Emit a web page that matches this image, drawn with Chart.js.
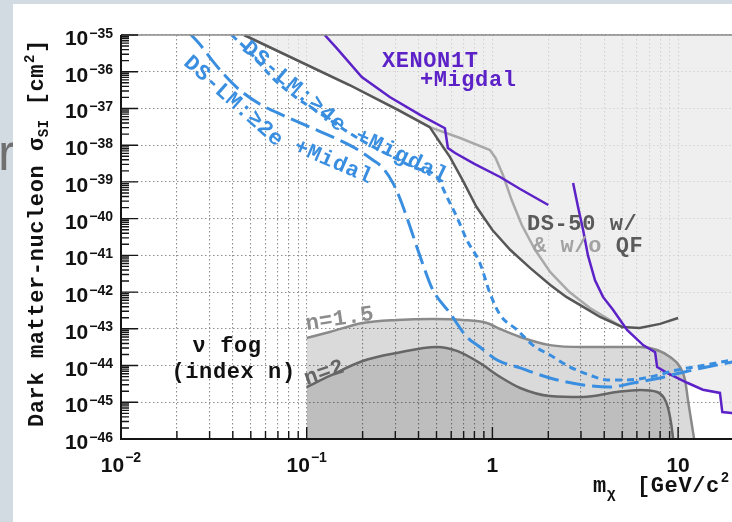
<!DOCTYPE html>
<html>
<head>
<meta charset="utf-8">
<script src="https://cdn.jsdelivr.net/npm/chart.js@4.4.1/dist/chart.umd.min.js"></script>
<style>
  html, body { margin: 0; padding: 0; width: 732px; height: 522px; overflow: hidden; background: #d3dbe2; }
  #detras { position: absolute; left: -2px; top: 126px; font: 52px/52px "Liberation Sans", Arial, sans-serif; color: #707070; }
  #hoja { position: absolute; left: 13px; top: 4px; right: 0; bottom: 0; background: #fff; }
  canvas { position: absolute; left: 0; top: 0; }
</style>
</head>
<body>
<div id="detras">r</div>
<div id="hoja"></div>
<canvas id="g_limites" width="740" height="522"></canvas>
<script>
// masses in GeV/c^2, cross sections in cm^2
const ds50Mass  = [0.046, 0.17, 0.31, 0.46, 0.52, 0.59, 0.69, 0.82, 1.0, 1.25, 1.6, 2.05, 2.5, 3.1, 3.8, 5.0, 6.2, 8.0, 10];
const ds50Sigma = [1e-35, 4.35e-37, 9.1e-38, 3.1e-38, 1.22e-38, 4.8e-39, 1.13e-39, 2.1e-40, 4.9e-41, 1.4e-41, 4.5e-42, 1.56e-42, 7.4e-43, 3.9e-43, 2.1e-43, 1.12e-43, 1.05e-43, 1.36e-43, 1.97e-43];

const ds50NoQfMass  = [0.046, 0.17, 0.31, 0.46, 0.67, 0.97, 1.04, 1.14, 1.27, 1.44, 1.7, 2.05, 2.6, 3.35, 4.3, 5.0];
const ds50NoQfSigma = [1e-35, 4.35e-37, 9.1e-38, 3.1e-38, 1.57e-38, 7.4e-39, 4.5e-39, 1.54e-39, 3.2e-40, 6.7e-41, 1.4e-41, 3.5e-42, 1.0e-42, 3.7e-43, 1.74e-43, 1.12e-43];

const xenonMigdalMass  = [0.125, 0.145, 0.198, 0.28, 0.41, 0.555, 0.576, 0.63, 0.80, 1.10, 1.41, 2.0];
const xenonMigdalSigma = [1e-35, 4.4e-36, 7.2e-37, 2.05e-37, 6.6e-38, 2.9e-38, 8.4e-39, 6.1e-39, 3.1e-39, 1.36e-39, 6.4e-40, 2.35e-40];

const xenonMass  = [2.72, 2.89, 3.08, 3.27, 3.57, 3.94, 4.46, 5.31, 6.48, 7.52, 7.71, 8.72, 11.2, 13.6, 16.8, 17.3, 21.6];
const xenonSigma = [9.4e-40, 2.1e-40, 4.9e-41, 1.0e-41, 2.1e-42, 7.4e-43, 3.3e-43, 9.3e-44, 3.6e-44, 2.3e-44, 9.1e-45, 6.3e-45, 3.4e-45, 2.2e-45, 1.8e-45, 5.4e-46, 4.8e-46];

const ds2eMass  = [0.0234, 0.0265, 0.0308, 0.0361, 0.0435, 0.0558, 0.0761, 0.104, 0.142, 0.182, 0.227, 0.257, 0.291, 0.317, 0.350, 0.397, 0.433, 0.478, 0.590, 0.729, 0.856, 1.06, 1.41, 2.04, 3.08, 4.30, 5.72, 8.0, 10.25, 14.3, 19.6];
const ds2eSigma = [1.12e-35, 5.7e-36, 2.1e-36, 8.15e-37, 3.2e-37, 1.32e-37, 6.2e-38, 3.1e-38, 1.57e-38, 8.4e-39, 3.95e-39, 2.4e-39, 9.4e-40, 3.65e-40, 9.2e-41, 1.4e-41, 4.0e-42, 1.14e-42, 2.7e-43, 6.0e-44, 3.2e-44, 1.42e-44, 8.6e-45, 4.6e-45, 2.96e-45, 2.6e-45, 3.35e-45, 4.6e-45, 6.3e-45, 9.1e-45, 1.25e-44];

const ds4eMass  = [0.0394, 0.0493, 0.0656, 0.0884, 0.1175, 0.160, 0.219, 0.298, 0.382, 0.502, 0.569, 0.644, 0.729, 0.856, 0.969, 1.10, 1.36, 1.65, 2.04, 2.62, 3.35, 4.14, 5.31, 7.07, 9.88, 13.1, 19.6];
const ds4eSigma = [1e-35, 3.44e-36, 6.75e-37, 1.93e-37, 7.5e-38, 2.6e-38, 1.0e-38, 4.5e-39, 2.4e-39, 1.36e-39, 3.9e-40, 1.1e-40, 2.6e-41, 6.2e-42, 9.5e-43, 2.4e-43, 9.3e-44, 3.6e-44, 1.94e-44, 9.1e-45, 5.5e-45, 4.05e-45, 4.05e-45, 4.9e-45, 7.6e-45, 9.7e-45, 1.42e-44];

// neutrino fog, index n = 1.5 and n = 2
const fog15Mass  = [0.1, 0.133, 0.2, 0.306, 0.478, 0.694, 0.934, 1.10, 1.41, 2.04, 3.08, 4.69, 6.24, 7.71, 9.06, 10.25, 10.9, 11.3, 11.75, 12.2];
const fog15Sigma = [5.6e-44, 8.2e-44, 1.44e-43, 1.74e-43, 1.85e-43, 1.74e-43, 1.44e-43, 9.9e-44, 6.0e-44, 3.6e-44, 3.2e-44, 3.2e-44, 3.2e-44, 2.65e-44, 1.7e-44, 9.1e-45, 4.05e-45, 1.16e-45, 3.3e-46, 1e-46];
const fog2Mass  = [0.1, 0.133, 0.2, 0.306, 0.502, 0.644, 0.856, 1.10, 1.41, 2.04, 3.08, 4.69, 6.24, 7.71, 8.4, 8.83, 9.17, 9.4];
const fog2Sigma = [2.6e-45, 5.2e-45, 1.33e-44, 2.2e-44, 3.2e-44, 2.5e-44, 1.17e-44, 4.9e-45, 2.45e-45, 1.48e-45, 1.39e-45, 1.91e-45, 2.16e-45, 1.91e-45, 1.31e-45, 7.0e-46, 2.7e-46, 1e-46];

const xMajor = [0.01, 0.1, 1, 10];
const xTickLabels = [['10', '\u22122'], ['10', '\u22121'], ['1', ''], ['10', '']];
const yExponents = [-46, -45, -44, -43, -42, -41, -40, -39, -38, -37, -36, -35];

const MONO = '"Liberation Mono", "DejaVu Sans Mono", monospace';
const SANS = '"Liberation Sans", Arial, sans-serif';
const AZUL = 'rgb(58, 142, 224)';
const MORADO = 'rgb(92, 34, 200)';

function puntos(masas, sigmas) {
    var p = [];
    for (let i = 0; i < masas.length; i++) {
        p.push({x: masas[i], y: sigmas[i]});
    }
    return p;
}

// excluded region: DS-50 (w/ QF) until the XENON1T curve crosses it
function envolvente() {
    var p = [];
    for (let i = 0; i < ds50Mass.length; i++) {
        if (ds50Mass[i] <= 5.0) p.push({x: ds50Mass[i], y: ds50Sigma[i]});
    }
    for (let i = 0; i < xenonMass.length; i++) {
        if (xenonMass[i] > 5.0) p.push({x: xenonMass[i], y: xenonSigma[i]});
    }
    return p;
}

function texto(ctx, str, px, py, size, color, font) {
    ctx.font = 'bold ' + size + 'px ' + (font || MONO);
    ctx.fillStyle = color;
    ctx.textBaseline = 'alphabetic';
    ctx.fillText(str, px, py);
    return ctx.measureText(str).width;
}

function textoEnCurva(ctx, str, pts, size, color) {
    var largos = [], total = 0;
    for (let i = 1; i < pts.length; i++) {
        const d = Math.hypot(pts[i][0] - pts[i - 1][0], pts[i][1] - pts[i - 1][1]);
        largos.push(d);
        total += d;
    }
    const chars = Array.from(str);
    const paso = total / chars.length;
    ctx.font = 'bold ' + size + 'px ' + MONO;
    ctx.fillStyle = color;
    ctx.textAlign = 'center';
    ctx.textBaseline = 'middle';
    for (let k = 0; k < chars.length; k++) {
        let dist = (k + 0.5) * paso, i = 0;
        while (i < largos.length - 1 && dist > largos[i]) { dist -= largos[i]; i++; }
        const t = dist / largos[i];
        const a = pts[i], b = pts[i + 1];
        ctx.save();
        ctx.translate(a[0] + (b[0] - a[0]) * t, a[1] + (b[1] - a[1]) * t);
        ctx.rotate(Math.atan2(b[1] - a[1], b[0] - a[0]));
        ctx.fillText(chars[k], 0, 0);
        ctx.restore();
    }
    ctx.textAlign = 'left';
}

// axes, inward ticks, labels and annotations
const rotulos = {
    id: 'rotulos',
    afterDraw(chart) {
        const {ctx, chartArea: a, scales: {x, y}} = chart;
        const px = (m) => x.getPixelForValue(m);
        const py = (s) => y.getPixelForValue(s);
        ctx.save();

        ctx.strokeStyle = '#8a8a8a';
        ctx.lineWidth = 1.5;
        ctx.beginPath(); ctx.moveTo(a.left, a.top); ctx.lineTo(a.right, a.top); ctx.stroke();

        ctx.strokeStyle = '#151515';
        ctx.lineWidth = 2;
        ctx.beginPath(); ctx.moveTo(a.left, a.top); ctx.lineTo(a.left, a.bottom); ctx.lineTo(a.right, a.bottom); ctx.stroke();

        ctx.lineWidth = 1.4;
        ctx.beginPath();
        yExponents.forEach(e => {
            for (let k = 1; k < 10; k++) {
                const yy = py(k * Math.pow(10, e));
                if (yy < a.top - 0.5) continue;
                ctx.moveTo(a.left, yy);
                ctx.lineTo(a.left + (k === 1 ? 17 : 8), yy);
            }
        });
        xMajor.forEach(v => {
            for (let k = 1; k < 10; k++) {
                const xx = px(k * v);
                if (xx > a.right) continue;
                ctx.moveTo(xx, a.bottom);
                ctx.lineTo(xx, a.bottom - (k === 1 ? 12 : 8));
            }
        });
        ctx.stroke();

        // tick labels
        ctx.textAlign = 'left';
        yExponents.forEach(e => {
            const yy = py(Math.pow(10, e));
            ctx.font = 'bold 14px ' + SANS;
            const sup = '\u2212' + Math.abs(e);
            const ws = ctx.measureText(sup).width;
            ctx.font = 'bold 21px ' + SANS;
            const wb = ctx.measureText('10').width;
            texto(ctx, '10', 113 - ws - wb - 1, yy + 10, 21, '#111', SANS);
            texto(ctx, sup, 113 - ws, yy + 2.5, 14, '#111', SANS);
        });
        xMajor.forEach((v, i) => {
            const xx = px(v);
            ctx.font = 'bold 21px ' + SANS;
            const wb = ctx.measureText(xTickLabels[i][0]).width;
            ctx.font = 'bold 14px ' + SANS;
            const ws = xTickLabels[i][1] ? ctx.measureText(xTickLabels[i][1]).width + 1 : 0;
            const x0 = xx - (wb + ws) / 2;
            texto(ctx, xTickLabels[i][0], x0, a.bottom + 33, 21, '#111', SANS);
            if (ws) texto(ctx, xTickLabels[i][1], x0 + wb + 1, a.bottom + 23, 14, '#111', SANS);
        });

        ctx.letterSpacing = '0.6px';

        // axis titles
        let cx = 593;
        cx += texto(ctx, 'm', cx, a.bottom + 53, 22, '#111');
        texto(ctx, '\u03c7', cx, a.bottom + 59, 15, '#111');
        cx = 637;
        cx += texto(ctx, '[GeV/c', cx, a.bottom + 53, 22, '#111');
        cx += texto(ctx, '2', cx + 1, a.bottom + 43, 14, '#111');
        texto(ctx, ']', cx + 2, a.bottom + 53, 22, '#111');

        ctx.save();
        ctx.translate(43, 427);
        ctx.rotate(-Math.PI / 2);
        let cy = 0;
        cy += texto(ctx, 'Dark matter-nucleon \u03c3', cy, 0, 22, '#111');
        cy += texto(ctx, 'SI', cy, 5, 14, '#111');
        cy += texto(ctx, ' [cm', cy, 0, 22, '#111');
        cy += texto(ctx, '2', cy + 1, -9, 14, '#111');
        texto(ctx, ']', cy + 2, 0, 22, '#111');
        ctx.restore();

        // curve labels
        texto(ctx, 'XENON1T', px(0.254), py(1.35e-36), 22, MORADO);
        texto(ctx, '+Migdal', px(0.407), py(4.1e-37), 22, MORADO);

        texto(ctx, 'DS-50 w/', px(1.535), py(4.9e-41), 22, '#5a5a5a');
        const w = texto(ctx, '& w/o ', px(1.653), py(1.24e-41), 22, '#a2a2a2');
        texto(ctx, 'QF', px(1.653) + w, py(1.24e-41), 22, '#5a5a5a');

        texto(ctx, '\u03bd fog', px(0.0243), py(2.34e-44), 22, '#111');
        texto(ctx, '(index n)', px(0.0187), py(4.6e-45), 22, '#111');

        ctx.save();
        ctx.translate(px(0.1), py(9.3e-44));
        ctx.rotate(-8.7 * Math.PI / 180);
        texto(ctx, 'n=1.5', 0, 0, 22, '#8c8c8c');
        ctx.restore();
        ctx.save();
        ctx.translate(px(0.1), py(2.96e-45));
        ctx.rotate(-19 * Math.PI / 180);
        texto(ctx, 'n=2', 0, 0, 22, '#666');
        ctx.restore();

        const camino = (lista) => lista.map(p => [px(p[0]), py(p[1])]);
        textoEnCurva(ctx, 'DS-LM:\u22654e +Migdal',
            camino([[0.0463, 5.3e-36], [0.160, 2.6e-38], [0.224, 1.22e-38], [0.569, 1.28e-39]]), 22, AZUL);
        textoEnCurva(ctx, 'DS-LM:\u22652e +Midal',
            camino([[0.0225, 2.1e-36], [0.0689, 1.38e-38], [0.0917, 8.4e-39], [0.224, 1.2e-39]]), 22, AZUL);

        ctx.restore();
    }
};

function linea(datos, color, ancho, extra) {
    return Object.assign({
        data: datos,
        showLine: true,
        borderColor: color,
        borderWidth: ancho,
        pointRadius: 0,
        fill: false,
        tension: 0
    }, extra || {});
}

function grafica_limites() {
    var ctx = document.getElementById('g_limites').getContext('2d');
    var myChart = new Chart(ctx, {
        type: 'scatter',
        data: {
            datasets: [
                linea(envolvente(), 'rgba(0,0,0,0)', 0, {fill: 'end', backgroundColor: 'rgba(234,234,234,0.75)', order: 10}),
                linea(puntos(fog15Mass, fog15Sigma), '#8a8a8a', 2.5, {fill: 'start', backgroundColor: 'rgba(0,0,0,0.145)', cubicInterpolationMode: 'monotone', order: 9}),
                linea(puntos(fog2Mass, fog2Sigma), '#666666', 2.5, {fill: 'start', backgroundColor: 'rgba(0,0,0,0.128)', cubicInterpolationMode: 'monotone', order: 8}),
                linea(puntos(ds50NoQfMass, ds50NoQfSigma), '#a9a9a9', 2.5, {order: 7}),
                linea(puntos(ds50Mass, ds50Sigma), '#575757', 2.5, {order: 6}),
                linea(puntos(xenonMigdalMass, xenonMigdalSigma), MORADO, 2.5, {order: 5}),
                linea(puntos(xenonMass, xenonSigma), MORADO, 2.5, {order: 5}),
                linea(puntos(ds2eMass, ds2eSigma), AZUL, 3, {borderDash: [20, 7], cubicInterpolationMode: 'monotone', order: 4}),
                linea(puntos(ds4eMass, ds4eSigma), AZUL, 3, {borderDash: [7, 5], cubicInterpolationMode: 'monotone', order: 3})
            ]
        },
        options: {
            responsive: false,
            animation: false,
            layout: { padding: { left: 121, top: 35, right: 6, bottom: 83 } },
            plugins: { legend: { display: false }, tooltip: { enabled: false } },
            scales: {
                x: {
                    type: 'logarithmic',
                    min: 0.01,
                    max: 20,
                    afterBuildTicks: function (axis) {
                        var t = [];
                        xMajor.forEach(v => { for (let k = 1; k < 10; k++) if (k * v <= 20) t.push({value: k * v}); });
                        axis.ticks = t;
                    },
                    ticks: { display: false, autoSkip: false },
                    grid: { color: '#8f8f8f', lineWidth: 1.1, drawTicks: false },
                    border: { display: false, dash: [1.5, 2.5] }
                },
                y: {
                    type: 'logarithmic',
                    min: 1e-46,
                    max: 1e-35,
                    afterBuildTicks: function (axis) {
                        axis.ticks = yExponents.map(e => ({value: Math.pow(10, e)}));
                    },
                    ticks: { display: false, autoSkip: false },
                    grid: { color: '#8f8f8f', lineWidth: 1.1, drawTicks: false },
                    border: { display: false, dash: [1.5, 2.5] }
                }
            }
        },
        plugins: [rotulos]
    });
}

grafica_limites();
</script>
</body>
</html>
